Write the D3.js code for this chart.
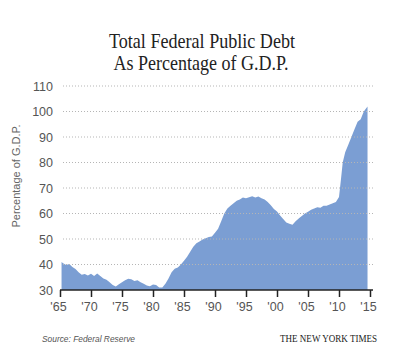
<!DOCTYPE html>
<html lang="en">
<head>
  <meta charset="utf-8">
  <title>Total Federal Public Debt As Percentage of G.D.P.</title>
  <script src="https://cdn.jsdelivr.net/npm/d3@7/dist/d3.min.js"></script>
  <style>
    body { margin: 0; background: #fff; }
    svg { display: block; }
    .title { font-family: "Liberation Serif", serif; font-size: 21px; fill: #222; }
    .tick-label { font-family: "Liberation Sans", Arial, sans-serif; font-size: 12.5px; fill: #555; }
    .ylab { font-family: "Liberation Sans", Arial, sans-serif; font-size: 11px; fill: #666; }
    .source { font-family: "Liberation Sans", Arial, sans-serif; font-size: 9px; font-style: italic; fill: #555; }
    .credit { font-family: "Liberation Serif", serif; font-size: 10px; fill: #222; }
  </style>
</head>
<body>
  <svg id="chart" width="400" height="363"></svg>
  <script>
  // values (approx, half-year steps)
  const years = [
    1965.25, 1965.5, 1966.0, 1966.5, 1967.0, 1967.5, 1968.0, 1968.5, 1969.0, 1969.5,
    1970.0, 1970.5, 1971.0, 1971.5, 1972.0, 1972.5, 1973.0, 1973.5, 1974.0, 1974.5,
    1975.0, 1975.5, 1976.0, 1976.5, 1977.0, 1977.5, 1978.0, 1978.5, 1979.0, 1979.5,
    1980.0, 1980.5, 1981.0, 1981.5, 1982.0, 1982.5, 1983.0, 1983.5, 1984.0, 1984.5,
    1985.0, 1985.5, 1986.0, 1986.5, 1987.0, 1987.5, 1988.0, 1988.5, 1989.0, 1989.5,
    1990.0, 1990.5, 1991.0, 1991.5, 1992.0, 1992.5, 1993.0, 1993.5, 1994.0, 1994.5,
    1995.0, 1995.5, 1996.0, 1996.5, 1997.0, 1997.5, 1998.0, 1998.5, 1999.0, 1999.5,
    2000.0, 2000.5, 2001.0, 2001.5, 2002.0, 2002.5, 2003.0, 2003.5, 2004.0, 2004.5,
    2005.0, 2005.5, 2006.0, 2006.5, 2007.0, 2007.5, 2008.0, 2008.5, 2009.0, 2009.5,
    2010.0, 2010.3, 2010.6, 2011.0, 2011.5, 2012.0, 2012.5, 2013.0, 2013.5, 2014.0,
    2014.6
  ];
  const debtPct = [
    41.0, 40.5, 39.8, 40.2, 39.0, 38.2, 37.0, 36.0, 36.3, 35.7,
    36.4, 35.5, 36.5, 35.5, 34.5, 34.0, 33.0, 32.0, 31.4, 32.3,
    33.0, 33.8, 34.4, 34.2, 33.5, 33.8, 33.0, 32.5, 31.8, 31.5,
    32.2, 32.0, 31.0, 31.0, 32.5, 34.5, 37.0, 38.3, 38.8, 40.0,
    41.5, 43.0, 45.0, 47.0, 48.3, 49.0, 49.8, 50.3, 50.8, 51.0,
    52.5, 54.0, 57.0, 60.0, 62.0, 63.0, 64.0, 65.0, 65.5, 66.3,
    66.0, 66.4, 66.8, 66.3, 66.7, 66.0, 65.5, 64.5, 63.2, 61.8,
    60.8, 59.2, 57.8, 56.5, 56.0, 55.6, 57.0, 58.0, 59.0, 60.0,
    60.7, 61.5, 62.0, 62.5, 62.3, 63.0, 63.0, 63.5, 64.0, 64.5,
    66.5, 73.0, 80.0, 84.0, 87.0, 90.0, 93.0, 96.0, 97.0, 100.0,
    102.0
  ];
  const yTicks = [30, 40, 50, 60, 70, 80, 90, 100, 110];
  const xTicks = [1965, 1970, 1975, 1980, 1985, 1990, 1995, 2000, 2005, 2010, 2015];
  const xTickLabels = ["'65", "'70", "'75", "'80", "'85", "'90", "'95", "'00", "'05", "'10", "'15"];

  const data = years.map((y, i) => ({ year: y, value: debtPct[i] }));

  const svg = d3.select("#chart");

  const x = d3.scaleLinear().domain([1965, 2015]).range([60, 370]);
  const y = d3.scaleLinear().domain([30, 110]).range([290, 86]);

  // title
  svg.append("text").attr("class", "title")
    .attr("x", 202).attr("y", 48).attr("text-anchor", "middle")
    .attr("textLength", 186).attr("lengthAdjust", "spacingAndGlyphs")
    .text("Total Federal Public Debt");
  svg.append("text").attr("class", "title")
    .attr("x", 201).attr("y", 70).attr("text-anchor", "middle")
    .attr("textLength", 175).attr("lengthAdjust", "spacingAndGlyphs")
    .text("As Percentage of G.D.P.");

  // area
  const area = d3.area()
    .x(d => x(d.year))
    .y0(y(30))
    .y1(d => y(d.value));

  svg.append("path")
    .datum(data)
    .attr("d", area)
    .attr("fill", "#7b9ed3");

  // dotted gridlines (on top of area, like the original)
  svg.append("g").selectAll("line")
    .data(yTicks.filter(t => t > 30))
    .enter().append("line")
      .attr("x1", 63).attr("x2", 375)
      .attr("y1", d => y(d)).attr("y2", d => y(d))
      .attr("stroke", "#b5b5b5")
      .attr("stroke-width", 1)
      .attr("stroke-dasharray", "1,2");

  // y tick labels
  svg.append("g").selectAll("text")
    .data(yTicks)
    .enter().append("text")
      .attr("class", "tick-label")
      .attr("x", 53)
      .attr("y", d => y(d) + 4.5)
      .attr("text-anchor", "end")
      .text(d => d);

  // x axis
  const xAxis = d3.axisBottom(x)
    .tickValues(xTicks)
    .tickSize(7)
    .tickSizeOuter(0)
    .tickFormat((d, i) => xTickLabels[i]);

  const gx = svg.append("g")
    .attr("transform", `translate(0,${y(30)})`)
    .call(xAxis);
  gx.select(".domain").attr("stroke", "#222").attr("stroke-width", 1.5)
    .attr("d", `M${x(1965)},0H${x(2015) + 3}`);
  gx.selectAll(".tick line").attr("stroke", "#222").attr("stroke-width", 1.5);
  gx.selectAll(".tick text")
    .attr("class", "tick-label")
    .attr("dx", -2)
    .attr("dy", "0.85em")
    .attr("fill", null);

  // y axis title
  svg.append("text").attr("class", "ylab")
    .attr("transform", "translate(20,176) rotate(-90)")
    .attr("text-anchor", "middle")
    .text("Percentage of G.D.P.");

  // footer
  svg.append("text").attr("class", "source")
    .attr("x", 42).attr("y", 342)
    .attr("textLength", 93).attr("lengthAdjust", "spacingAndGlyphs")
    .text("Source: Federal Reserve");
  svg.append("text").attr("class", "credit")
    .attr("x", 280).attr("y", 342)
    .attr("textLength", 97).attr("lengthAdjust", "spacingAndGlyphs")
    .text("THE NEW YORK TIMES");
  </script>
</body>
</html>
